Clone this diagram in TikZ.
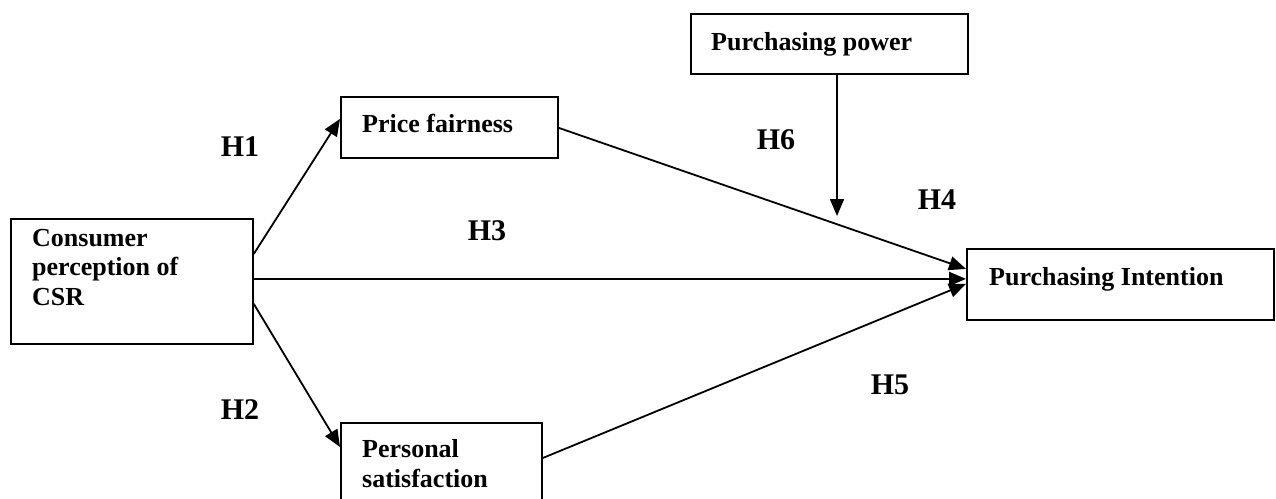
\documentclass[tikz,border=0pt]{standalone}
\usepackage{fontspec}
\setmainfont{Liberation Serif}
\usetikzlibrary{arrows.meta}
\begin{document}
\begin{tikzpicture}[x=1pt,y=-1pt,
  box/.style={draw, line width=1.8pt, anchor=north west, inner sep=0pt},
  txt/.style={font=\fontsize{26}{29.5}\selectfont\bfseries, align=left, anchor=base west, inner sep=0pt},
  hyp/.style={font=\fontsize{30}{34}\selectfont\bfseries, inner sep=0pt},
  arr/.style={line width=1.8pt, -{Triangle[length=17pt,width=14pt]}}]
\useasboundingbox (0,0) rectangle (1276,498);
\clip (0,0) rectangle (1276,498);
% boxes
\node[box, minimum width=242pt, minimum height=125pt] (csr) at (10,218) {};
\node[box, minimum width=217pt, minimum height=61pt] (pf) at (340,96) {};
\node[box, minimum width=201pt, minimum height=90pt] (ps) at (340,422) {};
\node[box, minimum width=277pt, minimum height=60pt] (pp) at (690,13) {};
\node[box, minimum width=307pt, minimum height=71pt] (pi) at (966,248) {};
% box texts (multi-line nodes are placed by their last baseline)
\node[txt] (csrt) at (32,305) {Consumer\\perception of\\CSR};
\node[txt] (pft) at (362,132) {Price fairness};
\node[txt] (pst) at (362,487) {Personal\\satisfaction};
\node[txt] (ppt) at (711,50) {Purchasing power};
\node[txt] (pit) at (989,285) {Purchasing Intention};
% paths
\draw[arr] ([yshift=27.5pt]csr.east) -- ([yshift=8.5pt]pf.west);
\draw[arr] ([yshift=2.5pt]csr.east) -- ([yshift=5.5pt]pi.west);
\draw[arr] ([yshift=-22.5pt]csr.east) -- ([yshift=-25pt]ps.north west);
\draw[arr] ([yshift=-0.5pt]pf.east) -- ([yshift=15.5pt]pi.west);
\draw[arr] ([yshift=-36pt]ps.north east) -- ([yshift=0.5pt]pi.west);
\coordinate (mod) at (837,216);
\draw[arr] (pp.south -| mod) -- (mod);
% hypothesis labels
\node[hyp] (h1) at (240,147) {H1};
\node[hyp] (h2) at (240,410) {H2};
\node[hyp] (h3) at (487,231) {H3};
\node[hyp] (h4) at (937,200) {H4};
\node[hyp] (h5) at (890,385) {H5};
\node[hyp] (h6) at (776,140) {H6};
\end{tikzpicture}
\end{document}
